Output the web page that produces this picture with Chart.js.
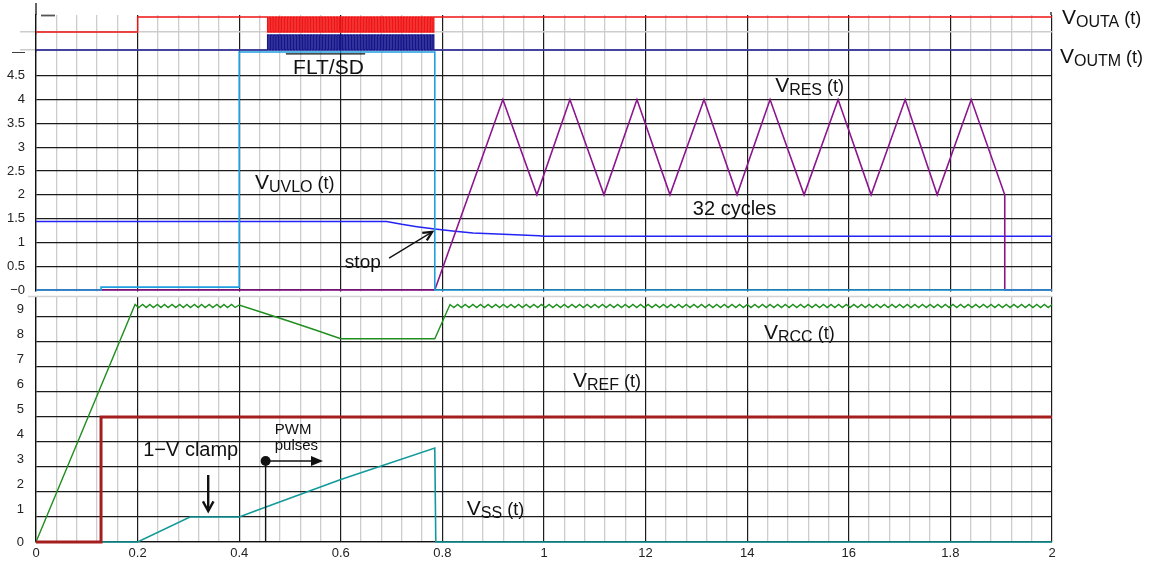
<!DOCTYPE html>
<html><head><meta charset="utf-8">
<script src="https://cdn.jsdelivr.net/npm/chart.js@4/dist/chart.umd.min.js"></script>
<style>html,body{margin:0;padding:0;background:#fff;}#c{display:block;}</style>
</head><body>
<canvas id="c" width="1152" height="563"></canvas>
<script>
const FONT = "'Liberation Sans', Arial, Helvetica, sans-serif";

// ---- tick labels ----
const xTickLabels = ['0','0.2','0.4','0.6','0.8','1','12','14','16','1.8','2'];

// ---- digital traces (logic levels) ----
const outaStart = [[0,0],[0.2,1]];
const outaEnd   = [[0.785,1],[2,1]];
const outmStart = [[0,0]];
const outmEnd   = [[0.785,0],[2,0]];
const pwmEdges = [
 0.456,0.459,0.462,0.465,0.468,0.471,0.474,0.477,0.480,0.483,
 0.486,0.489,0.492,0.495,0.498,0.501,0.504,0.507,0.510,0.513,
 0.516,0.519,0.522,0.525,0.528,0.531,0.534,0.537,0.540,0.543,
 0.546,0.549,0.552,0.555,0.558,0.561,0.564,0.567,0.570,0.573,
 0.576,0.579,0.582,0.585,0.588,0.591,0.594,0.597,0.600,0.603,
 0.606,0.609,0.612,0.615,0.618,0.621,0.624,0.627,0.630,0.633,
 0.636,0.639,0.642,0.645,0.648,0.651,0.654,0.657,0.660,0.663,
 0.666,0.669,0.672,0.675,0.678,0.681,0.684,0.687,0.690,0.693,
 0.696,0.699,0.702,0.705,0.708,0.711,0.714,0.717,0.720,0.723,
 0.726,0.729,0.732,0.735,0.738,0.741,0.744,0.747,0.750,0.753,
 0.756,0.759,0.762,0.765,0.768,0.771,0.774,0.777,0.780,0.783];
const outaPwm = [
 0,1,0,1,0,1,0,1,0,1, 0,1,0,1,0,1,0,1,0,1, 0,1,0,1,0,1,0,1,0,1,
 0,1,0,1,0,1,0,1,0,1, 0,1,0,1,0,1,0,1,0,1, 0,1,0,1,0,1,0,1,0,1,
 0,1,0,1,0,1,0,1,0,1, 0,1,0,1,0,1,0,1,0,1, 0,1,0,1,0,1,0,1,0,1,
 0,1,0,1,0,1,0,1,0,1, 0,1,0,1,0,1,0,1,0,1];
const outmPwm = [
 1,0,1,0,1,0,1,0,1,0, 1,0,1,0,1,0,1,0,1,0, 1,0,1,0,1,0,1,0,1,0,
 1,0,1,0,1,0,1,0,1,0, 1,0,1,0,1,0,1,0,1,0, 1,0,1,0,1,0,1,0,1,0,
 1,0,1,0,1,0,1,0,1,0, 1,0,1,0,1,0,1,0,1,0, 1,0,1,0,1,0,1,0,1,0,
 1,0,1,0,1,0,1,0,1,0, 1,0,1,0,1,0,1,0,1,0];

// ---- middle panel ----
const fltSd = [[0,0],[0.128,0],[0.128,0.06],[0.4,0.06],[0.4,5],[0.785,5],[0.785,0],[2,0]];
const vUvlo = [[0,1.44],[0.69,1.44],[0.72,1.38],[0.75,1.33],[0.785,1.28],[0.82,1.24],[0.86,1.2],[0.92,1.17],[0.99,1.14],[1.0,1.13],[2,1.13]];
const vRes = [[0,0],[0.785,0],[0.919,4],[0.986,2],[1.051,4],[1.118,2],[1.183,4],[1.248,2],[1.315,4],[1.380,2],
 [1.445,4],[1.512,2],[1.579,4],[1.644,2],[1.711,4],[1.774,2],[1.841,4],[1.907,2],[1.907,0],[2,0]];

// ---- bottom panel ----
const vRef = [[0,0],[0.128,0],[0.128,5],[2,5]];
const vSs = [[0,0],[0.2,0],[0.303,1],[0.4,1],[0.45,1.38],[0.6,2.5],[0.785,3.76],[0.787,0],[2,0]];
const vRcc = [
 [0,0],[0.195,9.5],[0.202,9.38],[0.210,9.5],[0.217,9.38],[0.224,9.5],[0.231,9.38],[0.239,9.5],[0.246,9.38],
 [0.253,9.5],[0.260,9.38],[0.268,9.5],[0.275,9.38],[0.283,9.5],[0.290,9.38],[0.297,9.5],[0.304,9.38],
 [0.312,9.5],[0.319,9.38],[0.326,9.5],[0.333,9.38],[0.341,9.5],[0.348,9.38],[0.356,9.5],[0.363,9.38],
 [0.370,9.5],[0.377,9.38],[0.385,9.5],[0.392,9.38],[0.400,9.48],[0.45,9.15],[0.5,8.82],[0.55,8.48],
 [0.6,8.13],[0.785,8.13],[0.815,9.5],
 [0.8225,9.38],[0.830,9.5],[0.8375,9.38],[0.845,9.5],[0.8525,9.38],[0.860,9.5],[0.8675,9.38],[0.875,9.5],[0.8825,9.38],[0.890,9.5],
 [0.8975,9.38],[0.905,9.5],[0.9125,9.38],[0.920,9.5],[0.9275,9.38],[0.935,9.5],[0.9425,9.38],[0.950,9.5],[0.9575,9.38],[0.965,9.5],
 [0.9725,9.38],[0.980,9.5],[0.9875,9.38],[0.995,9.5],[1.0025,9.38],[1.010,9.5],[1.0175,9.38],[1.025,9.5],[1.0325,9.38],[1.040,9.5],
 [1.0475,9.38],[1.055,9.5],[1.0625,9.38],[1.070,9.5],[1.0775,9.38],[1.085,9.5],[1.0925,9.38],[1.100,9.5],[1.1075,9.38],[1.115,9.5],
 [1.1225,9.38],[1.130,9.5],[1.1375,9.38],[1.145,9.5],[1.1525,9.38],[1.160,9.5],[1.1675,9.38],[1.175,9.5],[1.1825,9.38],[1.190,9.5],
 [1.1975,9.38],[1.205,9.5],[1.2125,9.38],[1.220,9.5],[1.2275,9.38],[1.235,9.5],[1.2425,9.38],[1.250,9.5],[1.2575,9.38],[1.265,9.5],
 [1.2725,9.38],[1.280,9.5],[1.2875,9.38],[1.295,9.5],[1.3025,9.38],[1.310,9.5],[1.3175,9.38],[1.325,9.5],[1.3325,9.38],[1.340,9.5],
 [1.3475,9.38],[1.355,9.5],[1.3625,9.38],[1.370,9.5],[1.3775,9.38],[1.385,9.5],[1.3925,9.38],[1.400,9.5],[1.4075,9.38],[1.415,9.5],
 [1.4225,9.38],[1.430,9.5],[1.4375,9.38],[1.445,9.5],[1.4525,9.38],[1.460,9.5],[1.4675,9.38],[1.475,9.5],[1.4825,9.38],[1.490,9.5],
 [1.4975,9.38],[1.505,9.5],[1.5125,9.38],[1.520,9.5],[1.5275,9.38],[1.535,9.5],[1.5425,9.38],[1.550,9.5],[1.5575,9.38],[1.565,9.5],
 [1.5725,9.38],[1.580,9.5],[1.5875,9.38],[1.595,9.5],[1.6025,9.38],[1.610,9.5],[1.6175,9.38],[1.625,9.5],[1.6325,9.38],[1.640,9.5],
 [1.6475,9.38],[1.655,9.5],[1.6625,9.38],[1.670,9.5],[1.6775,9.38],[1.685,9.5],[1.6925,9.38],[1.700,9.5],[1.7075,9.38],[1.715,9.5],
 [1.7225,9.38],[1.730,9.5],[1.7375,9.38],[1.745,9.5],[1.7525,9.38],[1.760,9.5],[1.7675,9.38],[1.775,9.5],[1.7825,9.38],[1.790,9.5],
 [1.7975,9.38],[1.805,9.5],[1.8125,9.38],[1.820,9.5],[1.8275,9.38],[1.835,9.5],[1.8425,9.38],[1.850,9.5],[1.8575,9.38],[1.865,9.5],
 [1.8725,9.38],[1.880,9.5],[1.8875,9.38],[1.895,9.5],[1.9025,9.38],[1.910,9.5],[1.9175,9.38],[1.925,9.5],[1.9325,9.38],[1.940,9.5],
 [1.9475,9.38],[1.955,9.5],[1.9625,9.38],[1.970,9.5],[1.9775,9.38],[1.985,9.5],[1.9925,9.38],[2.000,9.5]];

// ---- build chart data from the arrays ----
const toXY = a => a.map(([x, y]) => ({x, y}));
const pwmPairs = lv => pwmEdges.map((t, i) => [t, lv[i]]);
const outaData = toXY([...outaStart, ...pwmPairs(outaPwm), ...outaEnd]);
const outmData = toXY([...outmStart, ...pwmPairs(outmPwm), ...outmEnd]);

const GRID_DARK = '#1c1c1c', GRID_LIGHT = '#cdcdcd', TXT = '#111';

function line(ctx, x1, y1, x2, y2) { ctx.beginPath(); ctx.moveTo(x1, y1); ctx.lineTo(x2, y2); ctx.stroke(); }
function chevron(ctx, x1, y1, x2, y2, len, ang) {
  const a = Math.atan2(y2 - y1, x2 - x1);
  ctx.beginPath();
  ctx.moveTo(x2 - len * Math.cos(a - ang), y2 - len * Math.sin(a - ang));
  ctx.lineTo(x2, y2);
  ctx.lineTo(x2 - len * Math.cos(a + ang), y2 - len * Math.sin(a + ang));
  ctx.stroke();
}
function vLabel(ctx, x, y, sub) {
  ctx.font = `21px ${FONT}`; ctx.fillText('V', x, y); x += ctx.measureText('V').width;
  ctx.font = `16px ${FONT}`; ctx.fillText(sub, x, y + 3); x += ctx.measureText(sub).width;
  ctx.font = `18px ${FONT}`; ctx.fillText(' (t)', x, y);
}

const decor = {
  id: 'decor',
  beforeDatasetsDraw(chart) {
    const {ctx, chartArea: ca, scales} = chart;
    const gTop = scales.yMid.getPixelForValue(0) + 1.6;
    const gBot = scales.yBot.top + 3;
    ctx.save();
    ctx.fillStyle = '#fff';
    ctx.fillRect(ca.left - 2, gTop, ca.right - ca.left + 4, gBot - gTop);
    ctx.strokeStyle = '#d2d2d2'; ctx.lineWidth = 1.5;
    line(ctx, ca.left - 8, gBot + 0.5, ca.right, gBot + 0.5);
    ctx.restore();
  },
  afterDraw(chart) {
    const {ctx, chartArea: ca, scales} = chart;
    const X = v => scales.x.getPixelForValue(v);
    const YM = v => scales.yMid.getPixelForValue(v);
    const YB = v => scales.yBot.getPixelForValue(v);
    ctx.save();
    ctx.strokeStyle = '#111'; ctx.lineWidth = 1.3;
    line(ctx, ca.left, 3, ca.left, ca.top);
    ctx.strokeStyle = '#555'; ctx.lineWidth = 1.8;
    line(ctx, ca.right - 1, 12, ca.right - 1, ca.top);
    line(ctx, ca.left + 5, ca.top + 0.5, ca.left + 19, ca.top + 0.5);
    ctx.fillStyle = '#222'; ctx.font = `13px ${FONT}`;
    ctx.textAlign = 'right'; ctx.textBaseline = 'middle';
    ctx.fillText('0', ca.left - 12, YB(0));
    ctx.textAlign = 'left'; ctx.textBaseline = 'alphabetic';
    ctx.fillStyle = TXT; ctx.strokeStyle = TXT;

    vLabel(ctx, ca.right + 10, scales.yA.getPixelForValue(1) + 7, 'OUTA');
    vLabel(ctx, ca.right + 8, scales.yM.getPixelForValue(0) + 13, 'OUTM');

    ctx.font = `21px ${FONT}`;
    ctx.fillText('FLT/SD', X(0.506), YM(4.54));
    ctx.lineWidth = 1.3;
    line(ctx, X(0.492), YM(4.96), X(0.648), YM(4.96));
    vLabel(ctx, X(1.455), YM(4.16), 'RES');
    vLabel(ctx, X(0.431), YM(2.12), 'UVLO');
    ctx.font = `20px ${FONT}`;
    ctx.fillText('32 cycles', X(1.293), YM(1.58));
    ctx.font = `19px ${FONT}`;
    ctx.fillText('stop', X(0.608), YM(0.46));
    ctx.lineWidth = 1.3;
    const s1 = [X(0.695), YM(0.67)], s2 = [X(0.78), YM(1.22)];
    line(ctx, s1[0], s1[1], s2[0], s2[1]);
    ctx.lineWidth = 2.2;
    chevron(ctx, s1[0], s1[1], s2[0], s2[1], 10, 0.45);

    vLabel(ctx, X(1.433), YB(8.12), 'RCC');
    vLabel(ctx, X(1.057), YB(6.2), 'REF');
    vLabel(ctx, X(0.848), YB(1.08), 'SS');
    ctx.font = `20px ${FONT}`;
    ctx.fillText('1\u2212V clamp', X(0.211), YB(3.44));
    ctx.lineWidth = 2.4;
    line(ctx, X(0.339), YB(2.68), X(0.339), YB(1.24));
    chevron(ctx, X(0.339), YB(2.68), X(0.339), YB(1.24), 11, 0.5);

    const px = X(0.452), py = YB(3.24);
    ctx.lineWidth = 1.4;
    line(ctx, px, py, px, YB(0));
    ctx.beginPath(); ctx.arc(px, py, 5, 0, Math.PI * 2); ctx.fill();
    const ax = X(0.565);
    line(ctx, px, py, ax - 8, py);
    ctx.beginPath(); ctx.moveTo(ax, py); ctx.lineTo(ax - 12, py - 5); ctx.lineTo(ax - 12, py + 5); ctx.closePath(); ctx.fill();
    ctx.font = `15px ${FONT}`;
    ctx.fillText('PWM', X(0.47), YB(4.32));
    ctx.fillText('pulses', X(0.47), YB(3.68));
    ctx.restore();
  }
};

const fixW = s => { s.width = 36; s.paddingTop = 0; s.paddingBottom = 0; };
const baseY = {
  type: 'linear', position: 'left', stack: 'v', offset: false,
  afterFit: fixW,
  border: {display: true, color: '#111', width: 1.3},
};

new Chart(document.getElementById('c'), {
  type: 'line',
  data: {
    datasets: [
      {label: 'V_OUTA', data: outaData, yAxisID: 'yA', stepped: 'before', borderColor: '#f01414', borderWidth: 1.4},
      {label: 'V_OUTM', data: outmData, yAxisID: 'yM', stepped: 'before', borderColor: '#14148c', borderWidth: 1.4},
      {label: 'FLT/SD', data: toXY(fltSd), yAxisID: 'yMid', borderColor: '#1e9fe0', borderWidth: 1.6},
      {label: 'V_RES', data: toXY(vRes), yAxisID: 'yMid', borderColor: '#8c148c', borderWidth: 1.6},
      {label: 'V_UVLO', data: toXY(vUvlo), yAxisID: 'yMid', borderColor: '#2323f5', borderWidth: 1.5},
      {label: 'V_REF', data: toXY(vRef), yAxisID: 'yBot', borderColor: '#a51e1e', borderWidth: 3},
      {label: 'V_SS', data: toXY(vSs), yAxisID: 'yBot', borderColor: '#12999a', borderWidth: 1.6},
      {label: 'V_RCC', data: toXY(vRcc), yAxisID: 'yBot', borderColor: '#1f8f1f', borderWidth: 1.4},
    ].map(d => Object.assign({pointRadius: 0, tension: 0, fill: false, clip: false, borderJoinStyle: 'miter'}, d))
  },
  options: {
    responsive: false, animation: false, devicePixelRatio: 1, events: [],
    layout: {padding: {top: 15, right: 100, bottom: 0, left: 0}},
    plugins: {legend: {display: false}, tooltip: {enabled: false}},
    scales: {
      x: {
        type: 'linear', position: 'bottom', min: 0, max: 2,
        afterFit: s => { s.height = 21; s.paddingLeft = 0; s.paddingRight = 0; },
        border: {display: true, color: '#111', width: 1.3},
        grid: {
          drawTicks: false,
          color: c => (c.index % 5 === 0 ? GRID_DARK : GRID_LIGHT),
          lineWidth: c => (c.index % 5 === 0 ? 1.2 : 1.3),
        },
        ticks: {
          stepSize: 0.04, autoSkip: false, maxRotation: 0, padding: 4,
          color: '#222', font: {family: FONT, size: 13},
          callback: (v, i) => (i % 5 === 0 ? xTickLabels[i / 5] : ''),
        },
      },
      yBot: Object.assign({}, baseY, {
        weight: 1, stackWeight: 249, min: 0, max: 9.96,
        grid: {drawTicks: false, color: GRID_DARK, lineWidth: 1.2},
        ticks: {stepSize: 1, includeBounds: false, autoSkip: false, padding: 12, labelOffset: -8,
          color: '#222', font: {family: FONT, size: 13},
          callback: v => (v === 0 ? '' : String(v))},
      }),
      yMid: Object.assign({}, baseY, {
        weight: 2, stackWeight: 241, min: -0.063, max: 5,
        grid: {drawTicks: false, color: c => (c.tick && c.tick.value === 5 ? 'rgba(0,0,0,0)' : GRID_DARK), lineWidth: 1.2},
        ticks: {stepSize: 0.5, includeBounds: false, autoSkip: false, padding: 11,
          color: '#222', font: {family: FONT, size: 13},
          callback: v => (v === 0 ? '\u22120' : v === 5 ? '\u2014' : String(v))},
      }),
      yM: Object.assign({}, baseY, {
        weight: 3, stackWeight: 18.5, min: -0.1333, max: 1.1,
        afterBuildTicks: s => { s.ticks = [{value: 0}]; },
        grid: {drawTicks: true, tickLength: 16, color: GRID_LIGHT, tickColor: GRID_LIGHT, lineWidth: 1.5},
        ticks: {display: false},
      }),
      yA: Object.assign({}, baseY, {
        weight: 4, stackWeight: 18.5, min: -0.1, max: 1.1333,
        afterBuildTicks: s => { s.ticks = [{value: 0}]; },
        grid: {drawTicks: true, tickLength: 16, color: GRID_LIGHT, tickColor: GRID_LIGHT, lineWidth: 1.5},
        ticks: {display: false},
      }),
    },
  },
  plugins: [decor],
});
</script>
</body></html>
